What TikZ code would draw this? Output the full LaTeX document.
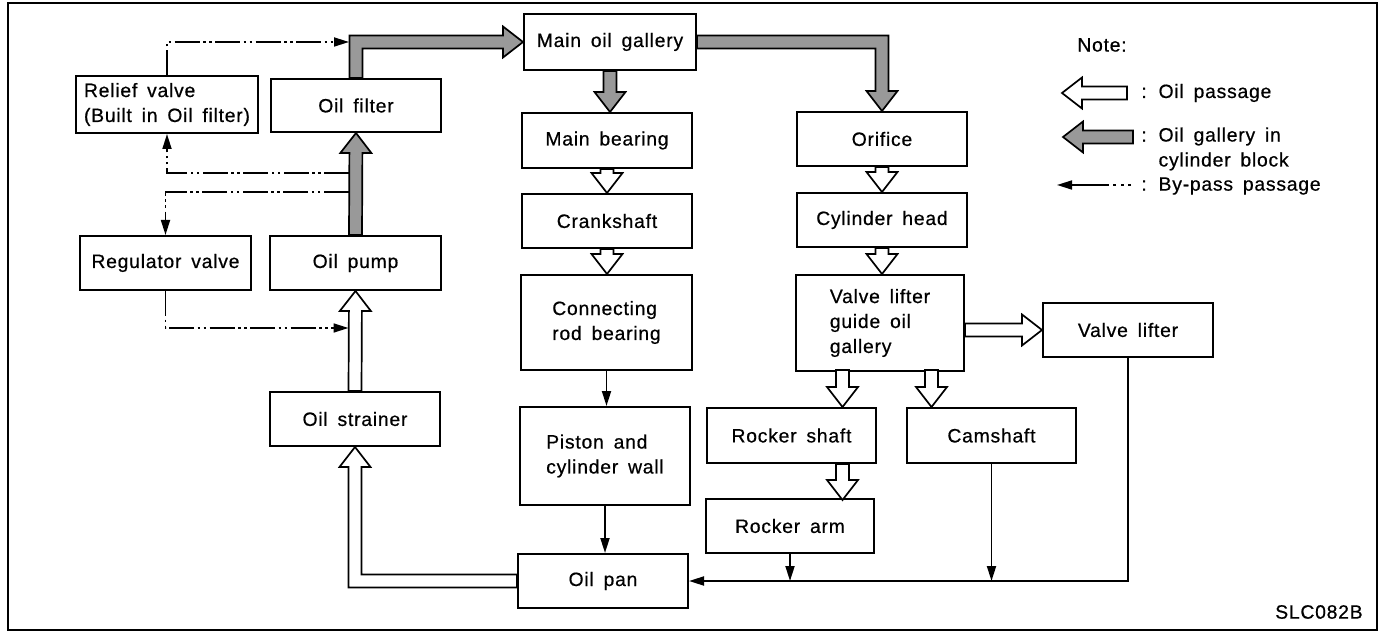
\documentclass[tikz,border=0pt]{standalone}
\usepackage{fontspec}
\setmainfont{Liberation Sans}[LetterSpace=4,WordSpace=1.6,FakeBold=0.6]
\usetikzlibrary{arrows.meta,calc}

\newcommand{\pshaft}{1.3mm}
\newcommand{\phead}{3.1mm}
\newcommand{\plen}{4mm}

\tikzset{
  fat/.style={to path={let \p1=(\tikztostart), \p2=(\tikztotarget),
      \n1={veclen(\x2-\x1,\y2-\y1)}, \n2={(\x2-\x1)/\n1}, \n3={(\y2-\y1)/\n1} in
      -- ({\x1-\n3*\pshaft},{\y1+\n2*\pshaft})
      -- ({\x2-\n2*\plen-\n3*\pshaft},{\y2-\n3*\plen+\n2*\pshaft})
      -- ({\x2-\n2*\plen-\n3*\phead},{\y2-\n3*\plen+\n2*\phead})
      -- (\p2)
      -- ({\x2-\n2*\plen+\n3*\phead},{\y2-\n3*\plen-\n2*\phead})
      -- ({\x2-\n2*\plen+\n3*\pshaft},{\y2-\n3*\plen-\n2*\pshaft})
      -- ({\x1+\n3*\pshaft},{\y1-\n2*\pshaft}) -- cycle}},
  fatbend/.style={to path={let \p1=(\tikztostart), \p2=(\tikztotarget),
      \p3=(\tikztostart #1 \tikztotarget),
      \n1={veclen(\x3-\x1,\y3-\y1)}, \n2={(\x3-\x1)/\n1}, \n3={(\y3-\y1)/\n1},
      \n4={veclen(\x2-\x3,\y2-\y3)}, \n5={(\x2-\x3)/\n4}, \n6={(\y2-\y3)/\n4} in
      -- ({\x1-\n3*\pshaft},{\y1+\n2*\pshaft})
      -- ({\x3-(\n3+\n6)*\pshaft},{\y3+(\n2+\n5)*\pshaft})
      -- ({\x2-\n5*\plen-\n6*\pshaft},{\y2-\n6*\plen+\n5*\pshaft})
      -- ({\x2-\n5*\plen-\n6*\phead},{\y2-\n6*\plen+\n5*\phead})
      -- (\p2)
      -- ({\x2-\n5*\plen+\n6*\phead},{\y2-\n6*\plen-\n5*\phead})
      -- ({\x2-\n5*\plen+\n6*\pshaft},{\y2-\n6*\plen-\n5*\pshaft})
      -- ({\x3+(\n3+\n6)*\pshaft},{\y3-(\n2+\n5)*\pshaft})
      -- ({\x1+\n3*\pshaft},{\y1-\n2*\pshaft}) -- cycle}}
}

\begin{document}
\begin{tikzpicture}[x=0.2mm, y=-0.2mm, >={Triangle[length=3mm,width=1.8mm]},
  every node/.style={font=\fontsize{11}{14.2}\selectfont}]
\tikzstyle{part}=[draw, line width=0.4mm, minimum width=34mm, minimum height=10.8mm, inner sep=0pt, align=center]
\tikzstyle{tallpart}=[part, minimum height=19.2mm, align=left]
\tikzstyle{oilpass}=[draw, fill=white, line width=0.34mm, line join=miter]
\tikzstyle{gallery}=[oilpass, fill=black!40]
\tikzstyle{drain}=[->, line width=0.38mm]
\tikzstyle{bypass}=[->, line width=0.34mm, dash pattern=on 5mm off 0.7mm on 0.5mm off 0.7mm on 0.5mm off 0.7mm]
\tikzstyle{legend}=[anchor=west, inner sep=0pt, align=left]
\useasboundingbox (0,0) rectangle (1379,632);
\draw[line width=0.4mm] (8,3) rectangle (1377,630);
\node[part, minimum width=34.4mm, minimum height=11.2mm] (gal) at (610,42) {Main oil gallery};
\node[part, minimum width=36.4mm, minimum height=11.4mm, align=left] (rel) at (167,104.5) {Relief valve\\(Built in Oil filter)};
\node[part, minimum height=10.6mm] (fil) at (356,105.5) {Oil filter};
\node[part, minimum height=11mm] (mb) at (607,140.5) {Main bearing};
\node[part] (ori) at (882,139) {Orifice};
\node[part] (crk) at (607,221) {Crankshaft};
\node[part] (cyl) at (882,220) {Cylinder head};
\node[part, minimum width=34.2mm] (reg) at (165.5,263) {Regulator valve};
\node[part, minimum width=34.2mm] (pmp) at (355.5,263) {Oil pump};
\node[tallpart, minimum width=34.2mm, minimum height=19mm] (crb) at (606.5,322.5) {Connecting\\rod bearing};
\node[tallpart, minimum width=33.6mm] (vlg) at (880,323) {Valve lifter\\guide oil\\gallery};
\node[part] (vl) at (1128,330) {Valve lifter};
\node[part] (str) at (355,419) {Oil strainer};
\node[part, minimum width=33.8mm, minimum height=11mm] (rs) at (791.5,435.5) {Rocker shaft};
\node[part, minimum width=33.8mm, minimum height=11mm] (cam) at (991.5,435.5) {Camshaft};
\node[tallpart, minimum height=19.6mm] (pis) at (605,456) {Piston and\\cylinder wall};
\node[part, minimum width=33.6mm] (ra) at (790,526) {Rocker arm};
\node[part] (pan) at (603,581) {Oil pan};
\filldraw[gallery] (pmp.north) to[fat] (fil.south);
\filldraw[gallery] (fil.north) to[fatbend=|-] (gal.west);
\filldraw[gallery] (gal.south) to[fat] (gal.south |- mb.north);
\filldraw[gallery] (gal.east) to[fatbend=-|] (ori.north);
\filldraw[oilpass] (mb.south) to[fat] (crk.north);
\filldraw[oilpass] (crk.south) to[fat] (crk.south |- crb.north);
\filldraw[oilpass] (ori.south) to[fat] (cyl.north);
\filldraw[oilpass] (cyl.south) to[fat] (cyl.south |- vlg.north);
\filldraw[oilpass] (vlg.east |- vl.west) to[fat] (vl.west);
\filldraw[oilpass] ($(rs.north)+(51,-37)$) to[fat] ($(rs.north)+(51,0)$);
\filldraw[oilpass] ($(cam.north)+(-60,-37)$) to[fat] ($(cam.north)+(-60,0)$);
\filldraw[oilpass] ($(rs.south)+(51,0)$) to[fat] ($(rs.south)+(51,36)$);
\filldraw[oilpass] (str.north) to[fat] (pmp.south);
\filldraw[oilpass] (pan.west) to[fatbend=-|] (str.south);
\draw[drain] (crb.south) -- (crb.south |- pis.north);
\draw[drain] (pis.south) -- (pis.south |- pan.north);
\draw[drain] (ra.south) -- (ra.south |- pan.east);
\draw[drain] (cam.south) -- (cam.south |- pan.east);
\draw[drain] (vl.south) |- (pan.east);
\coordinate (tapA) at ($(fil.north |- gal.west)+(-7,0)$);
\coordinate (tapB) at ($(fil.south)+(-7,40)$);
\coordinate (tapC) at ($(pmp.north)+(-7,-43)$);
\coordinate (tapD) at ($(pmp.south)+(-7,37)$);
\draw[bypass] (rel.north) |- (tapA);
\draw[bypass] (tapB) -| (rel.south);
\draw[bypass] (tapC) -| (reg.north);
\draw[bypass] (reg.south) |- (tapD);
\node[anchor=west, inner sep=0pt] (note) at (1077,45) {Note:};
\coordinate (lgA) at (1127,93);
\coordinate (lgB) at (1062,93);
\coordinate (lgC) at (1133,137);
\coordinate (lgD) at (1063,137);
\coordinate (lgE) at (1135,185);
\coordinate (lgF) at (1057,185);
\filldraw[oilpass] (lgA) to[fat] (lgB);
\filldraw[gallery] (lgC) to[fat] (lgD);
\draw[->, line width=0.34mm, dash pattern=on 0pt off 0.8mm on 0.6mm off 0.9mm on 0.6mm off 0.9mm on 0.6mm off 0.9mm on 12mm off 1mm] (lgE) -- (lgF);
\node[legend] (lgtxtA) at (1141,93) {: Oil passage};
\node[legend] (lgtxtB) at (1141,149) {: Oil gallery in\\\phantom{: }cylinder block};
\node[legend] (lgtxtC) at (1141,186) {: By-pass passage};
\node[anchor=east, inner sep=0pt] (code) at (1363,612) {SLC082B};
\end{tikzpicture}
\end{document}
